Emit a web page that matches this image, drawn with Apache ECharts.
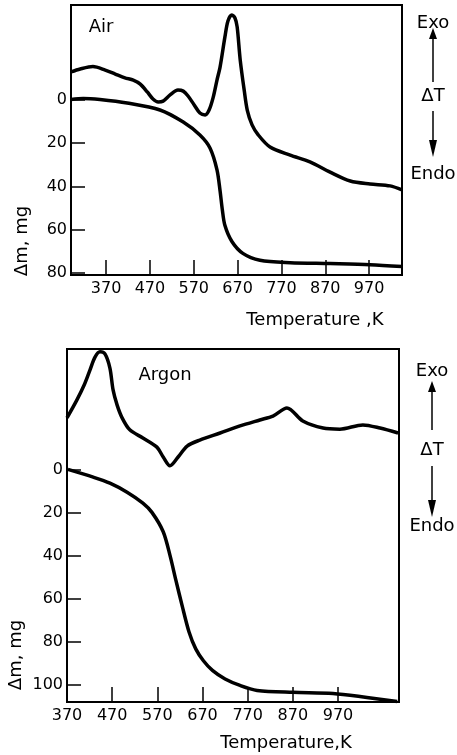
<!DOCTYPE html>
<html>
<head>
<meta charset="utf-8">
<script src="https://cdn.jsdelivr.net/npm/echarts@6/dist/echarts.min.js"></script>
<style>
  html, body { margin: 0; padding: 0; background: #fff; }
  #chart { width: 457px; height: 755px; }
</style>
</head>
<body>
<div id="chart"></div>
<script>
// tick labels
const tempTicks = [370, 470, 570, 670, 770, 870, 970];
const airMassTicks = [0, 20, 40, 60, 80];
const argonMassTicks = [0, 20, 40, 60, 80, 100];

// Air: DTA (relative units, exo up) and mass loss (mg)
const airDtaT = [290, 311, 340, 368, 391, 413, 432, 448, 464, 477, 489, 500, 516, 534, 546, 557, 571, 584, 596, 605, 614, 623, 630, 641, 648, 657, 664, 669, 676, 685, 692, 703, 717, 744, 790, 835, 881, 927, 972, 1018, 1045];
const airDtaV = [75.2, 76.3, 77.2, 75.9, 74.4, 73.0, 72.2, 70.7, 67.8, 65.2, 64.1, 64.4, 66.7, 68.5, 68.1, 66.3, 63.0, 60.0, 59.3, 61.1, 65.6, 72.2, 77.0, 88.1, 94.1, 96.3, 95.2, 91.9, 79.6, 68.5, 61.1, 55.6, 51.9, 47.4, 44.4, 41.9, 38.1, 34.8, 33.7, 33.0, 31.5];
const airTgT = [290, 318, 356, 418, 493, 546, 584, 607, 623, 630, 635, 641, 657, 682, 721, 790, 881, 972, 1045];
const airTgV = [-0.3, -0.7, -0.2, 1.4, 4.6, 10.2, 16.2, 22.2, 32.3, 42, 50.5, 58, 65.5, 71, 74.2, 75.3, 75.7, 76.2, 77.1];

// Argon
const argonDtaT = [370, 392, 408, 421, 432, 443, 454, 465, 472, 481, 492, 509, 538, 569, 583, 598, 616, 636, 664, 709, 753, 797, 826, 857, 892, 937, 974, 1025, 1063, 1103];
const argonDtaV = [80.5, 85.6, 89.8, 94.1, 97.7, 99.2, 98.6, 94.6, 88.4, 84.1, 80.5, 77.1, 74.8, 72.2, 69.4, 66.9, 69.4, 72.5, 74.2, 76.2, 78.2, 79.9, 81.0, 83.3, 79.6, 77.6, 77.3, 78.5, 77.6, 76.2];
const argonTgT = [372, 428, 465, 503, 538, 558, 583, 598, 611, 625, 640, 655, 672, 692, 720, 753, 791, 870, 959, 1034, 1101];
const argonTgV = [0, 3.6, 6.4, 10.6, 15.7, 20, 29, 40, 51.5, 63.5, 75.5, 83.5, 89, 93.5, 97.5, 100.5, 102.8, 103.7, 104.2, 106.1, 108];

const pairs = (xs, ys) => xs.map((x, i) => [x, ys[i]]);

const FONT = 'DejaVu Sans';
const lbl = { color: '#000', fontFamily: FONT, fontSize: 16 };

function xAxisFor(gridIndex, min, max) {
  return {
    type: 'value', gridIndex: gridIndex, min: min, max: max,
    axisLine: { show: true, onZero: false, lineStyle: { color: '#000', width: 2 } },
    axisTick: { show: true, inside: true, length: 15, customValues: tempTicks, lineStyle: { color: '#000', width: 1.5 } },
    axisLabel: Object.assign({ customValues: tempTicks, margin: 6, hideOverlap: false }, lbl),
    splitLine: { show: false }
  };
}

function yAxisFor(gridIndex, min, max, ticks) {
  return {
    type: 'value', gridIndex: gridIndex, min: min, max: max, inverse: true,
    axisLine: { show: true, onZero: false, lineStyle: { color: '#000', width: 2 } },
    axisTick: { show: true, inside: true, length: 14, customValues: ticks, lineStyle: { color: '#000', width: 1.5 } },
    axisLabel: Object.assign({ customValues: ticks, margin: 4, hideOverlap: false }, lbl),
    splitLine: { show: false }
  };
}

function dtaAxis(gridIndex) {
  return { type: 'value', gridIndex: gridIndex, min: 0, max: 100, show: false, splitLine: { show: false } };
}

const lineStyle = { color: '#000', width: 3.5 };
function curve(data, xi, yi) {
  return {
    type: 'line', data: data, xAxisIndex: xi, yAxisIndex: yi,
    showSymbol: false, symbol: 'none', smooth: 0.3,
    lineStyle: lineStyle, silent: true
  };
}

function txt(x, y, s, extra) {
  return Object.assign({
    type: 'text', x: x, y: y,
    style: { text: s, fill: '#000', font: '18px "' + FONT + '"', textAlign: 'center', textVerticalAlign: 'middle' }
  }, extra || {});
}

function arrowSet(cx, exoY, tipTop, baseTop, lineTopEnd, dtY, lineBotStart, baseBot, tipBot, endoY) {
  return [
    txt(cx, exoY, 'Exo'),
    { type: 'polygon', shape: { points: [[cx, tipTop], [cx - 4, baseTop], [cx + 4, baseTop]] }, style: { fill: '#000' } },
    { type: 'line', shape: { x1: cx, y1: baseTop, x2: cx, y2: lineTopEnd }, style: { stroke: '#000', lineWidth: 1.5 } },
    txt(cx, dtY, 'ΔT'),
    { type: 'line', shape: { x1: cx, y1: lineBotStart, x2: cx, y2: baseBot }, style: { stroke: '#000', lineWidth: 1.5 } },
    { type: 'polygon', shape: { points: [[cx, tipBot], [cx - 4, baseBot], [cx + 4, baseBot]] }, style: { fill: '#000' } },
    txt(cx, endoY, 'Endo')
  ];
}

const chart = echarts.init(document.getElementById('chart'), null, { renderer: 'canvas' });
chart.setOption({
  backgroundColor: '#fff',
  animation: false,
  grid: [
    { left: 71, top: 5, width: 331, height: 270, show: true, borderColor: '#000', borderWidth: 2 },
    { left: 67, top: 349, width: 332, height: 353, show: true, borderColor: '#000', borderWidth: 2 }
  ],
  xAxis: [xAxisFor(0, 290, 1045), xAxisFor(1, 370, 1105)],
  yAxis: [
    yAxisFor(0, -44, 81, airMassTicks), dtaAxis(0),
    yAxisFor(1, -56, 108.2, argonMassTicks), dtaAxis(1)
  ],
  series: [
    curve(pairs(airDtaT, airDtaV), 0, 1),
    curve(pairs(airTgT, airTgV), 0, 0),
    curve(pairs(argonDtaT, argonDtaV), 1, 3),
    curve(pairs(argonTgT, argonTgV), 1, 2)
  ],
  graphic: [
    txt(101, 27, 'Air'),
    txt(165, 375, 'Argon'),
    txt(315, 320, 'Temperature ,K'),
    txt(286, 743, 'Temperature,K'),
    txt(22, 241, 'Δm, mg', { rotation: Math.PI / 2 }),
    txt(16, 655, 'Δm, mg', { rotation: Math.PI / 2 })
  ].concat(
    arrowSet(433, 23, 28, 39, 82, 96, 111, 140, 157, 174),
    arrowSet(432, 371, 381, 392, 430, 450, 466, 500, 517, 526)
  )
});
</script>
</body>
</html>
